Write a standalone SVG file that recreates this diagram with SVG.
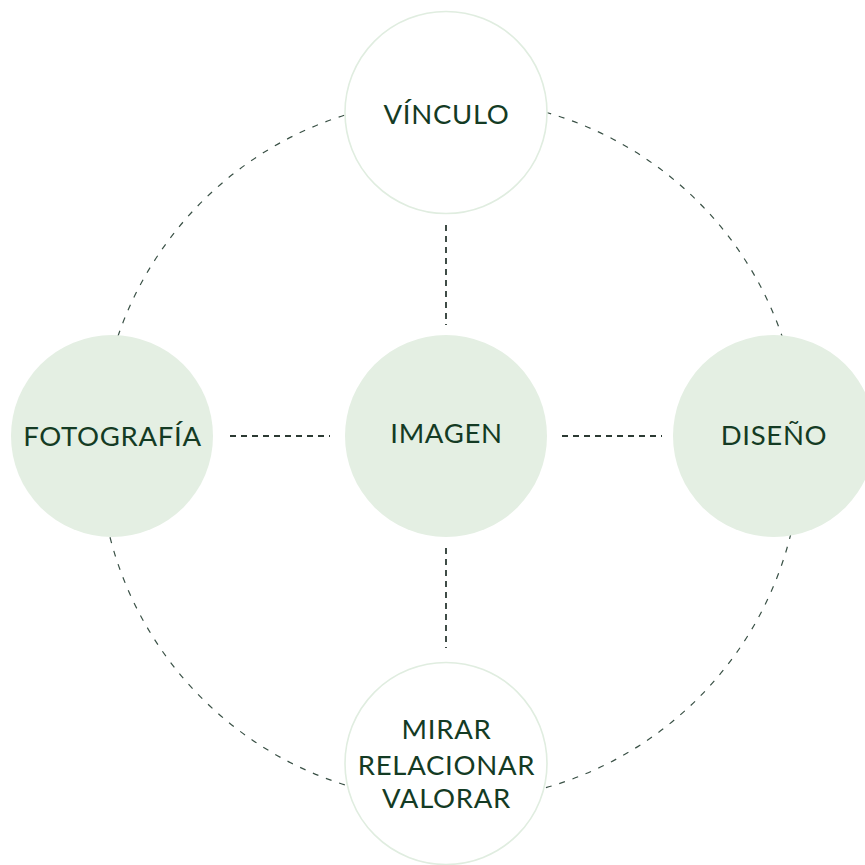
<svg xmlns="http://www.w3.org/2000/svg" width="865" height="865" viewBox="0 0 865 865">
  <style>
    .ring { fill: none; stroke: #3a5146; stroke-width: 1.2; stroke-dasharray: 6 8; }
    .link { stroke: #2c3a33; stroke-width: 1.8; stroke-dasharray: 6 5; fill: none; }
    .solid { fill: #e4efe3; stroke: none; }
    .open { fill: #ffffff; stroke: #e0ede0; stroke-width: 1.6; }
    .label { font-family: Lato, "Noto Sans", "Liberation Sans", sans-serif; font-size: 27.5px; letter-spacing: 0.7px; fill: #143b24; text-anchor: middle; }
  </style>
  <rect width="865" height="865" fill="#ffffff"/>

  <!-- outer dashed orbit and straight spokes -->
  <g id="connectors">
    <circle class="ring" cx="450" cy="450" r="351"/>
    <line class="link" x1="446" y1="225" x2="446" y2="325"/>
    <line class="link" x1="446" y1="548" x2="446" y2="648"/>
    <line class="link" x1="230" y1="436" x2="330" y2="436"/>
    <line class="link" x1="562" y1="436" x2="662" y2="436"/>
  </g>

  <g id="node-vinculo">
    <circle class="open" cx="446" cy="112.5" r="101"/>
    <text class="label" x="446.5" y="124">VÍNCULO</text>
  </g>

  <g id="node-imagen">
    <circle class="solid" cx="446" cy="436" r="101"/>
    <text class="label" x="446.5" y="443">IMAGEN</text>
  </g>

  <g id="node-fotografia">
    <circle class="solid" cx="112" cy="436" r="101"/>
    <text class="label" x="112.5" y="446">FOTOGRAFÍA</text>
  </g>

  <g id="node-diseno">
    <circle class="solid" cx="774" cy="436" r="101"/>
    <text class="label" x="774" y="445">DISEÑO</text>
  </g>

  <g id="node-mirar">
    <circle class="open" cx="446" cy="763.5" r="101"/>
    <text class="label" x="446.5" y="739">MIRAR</text>
    <text class="label" x="446.5" y="775">RELACIONAR</text>
    <text class="label" x="446.5" y="808">VALORAR</text>
  </g>
</svg>
